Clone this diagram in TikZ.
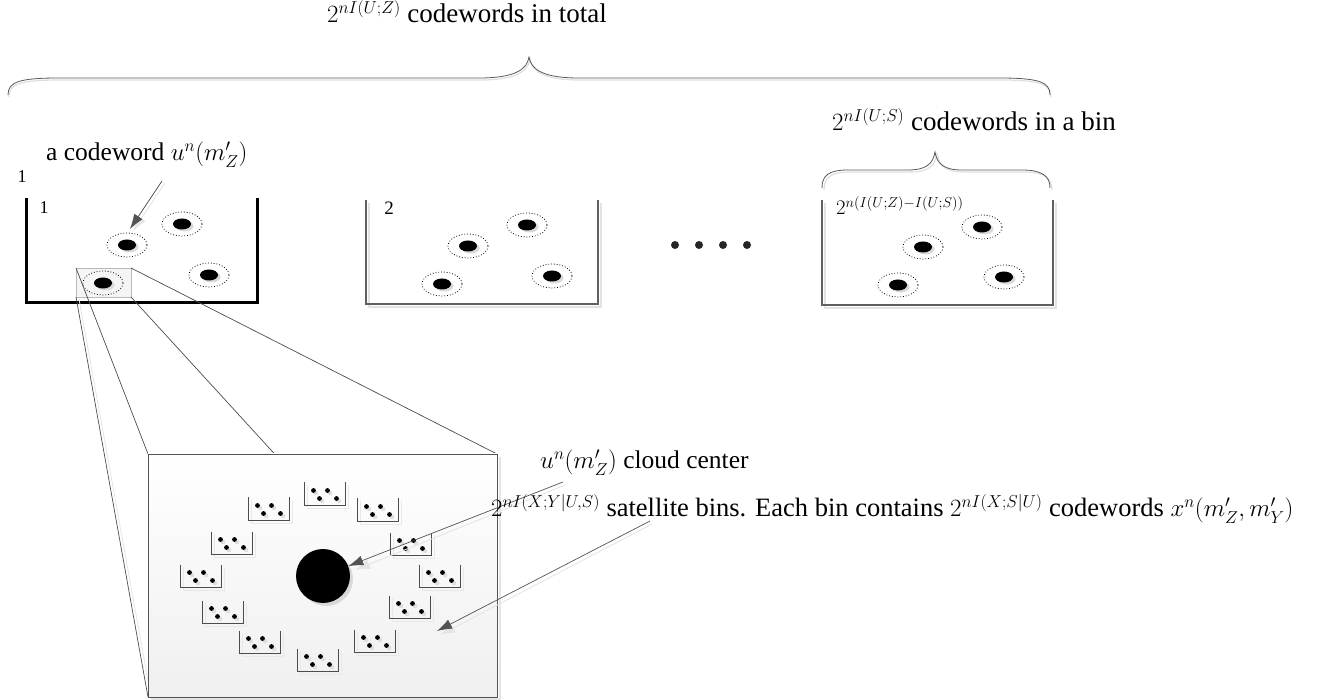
\documentclass[tikz,border=0pt]{standalone}
\usepackage{fontspec}
\setmainfont{Liberation Serif}
\usetikzlibrary{arrows.meta}
\begin{document}
\begin{tikzpicture}[x=1pt,y=-1pt,
  lbl/.style={inner sep=0pt, font=\fontsize{25.5}{30}\selectfont},
  biglbl/.style={inner sep=0pt, font=\fontsize{27}{31}\selectfont},
  satlbl/.style={inner sep=0pt, font=\fontsize{26.5}{31}\selectfont},
  numlbl/.style={inner sep=0pt, font=\fontsize{18}{20}\selectfont},
  garrow/.style={draw=gray!65!black, line width=0.7pt, -{Latex[length=15pt,width=10pt]}},
  arrowshadow/.style={draw=gray!20, line width=0.9pt, -{Latex[length=15pt,width=10pt]}},
  zoomline/.style={draw=gray!60!black, line width=0.7pt},
  bracepath/.style={draw=gray!70!black, line width=0.8pt},
  braceshadow/.style={draw=gray!25, line width=1.2pt},
  binwall/.style={draw=gray!75!black, line width=2pt},
  binshadow/.style={draw=gray!22, line width=2pt},
  cw/.pic={
    \fill[gray!30] (2.5,2) ellipse (9 and 5.5);
    \fill[black] (0,0) ellipse (9 and 5.5);
    \draw[dotted, line width=0.8pt] (0,0) ellipse (20 and 12);
  },
  satbin/.pic={
    \draw[gray!18, line width=0.8pt] (-18,-9) -- (-18,14) -- (23,14) -- (23,-9);
    \draw[gray!60!black, line width=0.7pt] (-20.5,-11.5) -- (-20.5,11.5) -- (20.5,11.5) -- (20.5,-11.5);
    \fill[gray!25] (-9,-1) circle (2.3) (5,-1) circle (2.3) (-3,7) circle (2.3) (14,7) circle (2.3);
    \fill[black] (-11.5,-3.5) circle (2.4) (2.5,-3.5) circle (2.4) (-5.5,4.5) circle (2.4) (11.5,4.5) circle (2.4);
  }
]
\useasboundingbox (0,0) rectangle (1318,700);

% ---------- top labels and braces ----------
\node[biglbl, anchor=base west] (total) at (327,23) {$2^{nI(U;Z)}$ codewords in total};
\draw[braceshadow] (9,97) .. controls (9,84) and (20,80) .. (60,80) -- (480,80) .. controls (515,80) and (528,72) .. (530,59) .. controls (532,72) and (545,80) .. (580,80) -- (1000,80) .. controls (1040,80) and (1051,84) .. (1051,97);
\draw[bracepath] (8,95) .. controls (8,82) and (19,78) .. (59,78) -- (479,78) .. controls (514,78) and (527,70) .. (529,57) .. controls (531,70) and (544,78) .. (579,78) -- (999,78) .. controls (1039,78) and (1050,82) .. (1050,95);

\node[biglbl, anchor=base west] (inbin) at (832,131) {$2^{nI(U;S)}$ codewords in a bin};
\draw[braceshadow] (824,190) .. controls (824,178) and (830,172) .. (850,172) -- (910,172) .. controls (928,172) and (935,166) .. (937,154) .. controls (939,166) and (946,172) .. (964,172) -- (1024,172) .. controls (1044,172) and (1052,178) .. (1052,190);
\draw[bracepath] (822,188) .. controls (822,176) and (828,170) .. (848,170) -- (908,170) .. controls (926,170) and (933,164) .. (935,152) .. controls (937,164) and (944,170) .. (962,170) -- (1022,170) .. controls (1042,170) and (1050,176) .. (1050,188);

% ---------- bin 1 ----------
\node[lbl, anchor=base west] (acw) at (46,161) {a codeword $u^n(m'_Z)$};
\node[numlbl, anchor=base] (outerone) at (22,183) {1};
\draw[line width=3pt] (26,198) -- (26,303) -- (257,303) -- (257,198);
\node[numlbl, anchor=base] (innerone) at (44,214) {1};
\draw[draw=gray!55, fill=gray!8, line width=0.7pt] (76,268) rectangle (131,297);
\pic at (182,224) {cw};
\pic at (127,245) {cw};
\pic at (209,275) {cw};
\pic at (103,283) {cw};
\coordinate (acwtail) at (162,181);
\coordinate (acwtip) at (130,229);
\coordinate (acwtails) at (165,183);
\coordinate (acwtips) at (133,231);
\draw[arrowshadow] (acwtails) -- (acwtips);
\draw[garrow] (acwtail) -- (acwtip);

% ---------- bin 2 ----------
\draw[binshadow] (369,203) -- (369,307) -- (601,307) -- (601,203);
\draw[binwall] (366,200) -- (366,304) -- (598,304) -- (598,200);
\node[inner sep=0pt, font=\fontsize{19}{21}\selectfont, anchor=base] (two) at (389,215) {2};
\pic at (468,246) {cw};
\pic at (527,225) {cw};
\pic at (442,284) {cw};
\pic at (552,276) {cw};

% ---------- dots ----------
\fill[black!85] (675,245) circle (4) (699,245) circle (4) (723,245) circle (4) (747,245) circle (4);

% ---------- bin 3 ----------
\draw[binshadow] (825,203) -- (825,308) -- (1056,308) -- (1056,203);
\draw[binwall] (822,200) -- (822,305) -- (1053,305) -- (1053,200);
\node[inner sep=0pt, font=\fontsize{19.5}{21}\selectfont, anchor=base west] (binlast) at (836,215) {$2^{n(I(U;Z)-I(U;S))}$};
\pic at (982,227) {cw};
\pic at (923,247) {cw};
\pic at (898,285) {cw};
\pic at (1004,277) {cw};

% ---------- zoom lines ----------
\coordinate (zTL) at (76,268);
\coordinate (zTR) at (131,268);
\coordinate (zBL) at (76,297);
\coordinate (zBR) at (131,297);
\coordinate (bTL) at (148,454);
\coordinate (bTR) at (497,454);
\coordinate (bBL) at (148,697);
\coordinate (bBR) at (497,697);
\draw[gray!20, line width=0.8pt] (79,299) -- (151,697);
\draw[zoomline] (zTL) -- (bTL);
\draw[zoomline] (zBL) -- (bBL);
\draw[zoomline] (zTR) -- (bTR);
\draw[zoomline] (zBR) -- (bBR);

% ---------- big box ----------
\draw[gray!20, line width=1.2pt] (151,699) -- (500,699) -- (500,457);
\draw[draw=gray!65!black, line width=0.8pt, top color=white, bottom color=gray!12] (bTL) rectangle (bBR);

\fill[gray!30] (326,579) circle (27);
\node[circle, fill=black, minimum size=54pt, inner sep=0pt] (ctr) at (323,576) {};

\pic at (325,494) {satbin};
\pic at (378,510) {satbin};
\pic at (411,544) {satbin};
\pic at (440,576) {satbin};
\pic at (410,607) {satbin};
\pic at (375,641) {satbin};
\pic at (318,660) {satbin};
\pic at (260,642) {satbin};
\pic at (223,612) {satbin};
\pic at (201,576) {satbin};
\pic at (232,543) {satbin};
\pic at (269,509) {satbin};

% ---------- labels with arrows ----------
\node[lbl, anchor=base west] (cc) at (540,469) {$u^n(m'_Z)$ cloud center};
\coordinate (cctail) at (563,482);
\coordinate (cctails) at (565,485);
\coordinate (cctips) at (355,570);
\draw[arrowshadow] (cctails) -- (cctips);
\draw[garrow] (cctail) -- (ctr);

\node[satlbl, anchor=base west] (sat) at (491,517) {$2^{nI(X;Y|U,S)}$ satellite bins. Each bin contains $2^{nI(X;S|U)}$ codewords $x^n(m'_Z,m'_Y)$};
\coordinate (sattail) at (650,521);
\coordinate (sattip) at (437,631);
\coordinate (sattails) at (652,524);
\coordinate (sattips) at (440,635);
\draw[arrowshadow] (sattails) -- (sattips);
\draw[garrow] (sattail) -- (sattip);
\end{tikzpicture}
\end{document}
